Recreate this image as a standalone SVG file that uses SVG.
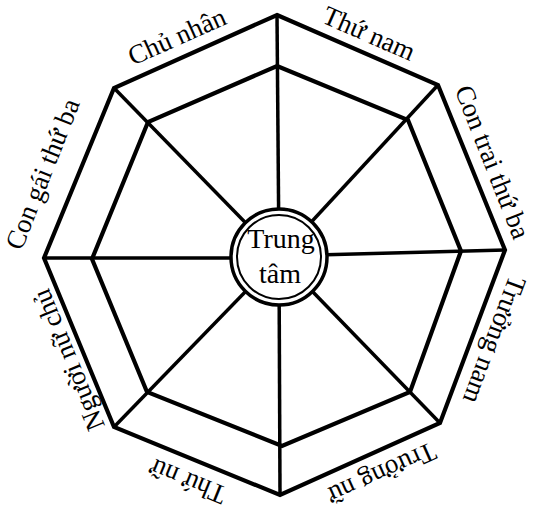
<svg xmlns="http://www.w3.org/2000/svg" width="535" height="512" viewBox="0 0 535 512">
<style>
.edge{fill:none;stroke:#000;stroke-width:4.2;stroke-linejoin:miter}
.spoke{stroke:#000;stroke-width:3.5;stroke-linecap:butt}
.lbl{font-family:"Liberation Serif","Times New Roman",serif;font-size:27px;fill:#000;text-anchor:middle;dominant-baseline:middle}
.ctr{font-family:"Liberation Serif","Times New Roman",serif;font-size:28px;fill:#000;text-anchor:middle}
</style>
<rect width="535" height="512" fill="#fff"/>
<g id="connectors">
<line class="spoke" x1="277" y1="15" x2="279" y2="257"/>
<line class="spoke" x1="438" y1="85" x2="279" y2="257"/>
<line class="spoke" x1="505" y1="250" x2="279" y2="256"/>
<line class="spoke" x1="440" y1="423" x2="279" y2="257"/>
<line class="spoke" x1="280" y1="495" x2="279" y2="257"/>
<line class="spoke" x1="114" y1="427" x2="279" y2="257"/>
<line class="spoke" x1="44" y1="258" x2="279" y2="258"/>
<line class="spoke" x1="114" y1="88" x2="279" y2="257"/>
</g>
<g id="outer-octagon">
<polygon class="edge" points="277,15 438,85 505,250 440,423 280,495 114,427 44,258 114,88"/>
</g>
<g id="inner-octagon">
<polygon class="edge" points="277,66 408,120 461,251 410,392 282,446 147,392 92,259 148,122"/>
</g>
<g id="center">
<circle cx="279" cy="257" r="48" fill="#fff" stroke="#000" stroke-width="3.5"/>
<circle cx="279" cy="257" r="42" fill="none" stroke="#000" stroke-width="2"/>
<text class="ctr" x="281" y="248">Trung</text>
<text class="ctr" x="280" y="283">tâm</text>
</g>
<g id="label-chu-nhan"><text class="lbl" transform="translate(178,39) rotate(-24)">Chủ nhân</text></g>
<g id="label-thu-nam"><text class="lbl" transform="translate(368,36) rotate(23.6)">Thứ nam</text></g>
<g id="label-con-trai-thu-ba"><text class="lbl" transform="translate(490,163) rotate(68.5)">Con trai thứ ba</text></g>
<g id="label-truong-nam"><text class="lbl" transform="translate(492,339) rotate(110.7)">Trưởng nam</text></g>
<g id="label-truong-nu"><text class="lbl" transform="translate(381,471) rotate(155.8)">Trưởng nữ</text></g>
<g id="label-thu-nu"><text class="lbl" transform="translate(189,479) rotate(-157.7)">Thứ nữ</text></g>
<g id="label-nguoi-nu-chu"><text class="lbl" transform="translate(71,359) rotate(-112.3)">Người nữ chủ</text></g>
<g id="label-con-gai-thu-ba"><text class="lbl" transform="translate(45,175) rotate(-68.4)">Con gái thứ ba</text></g>
</svg>
